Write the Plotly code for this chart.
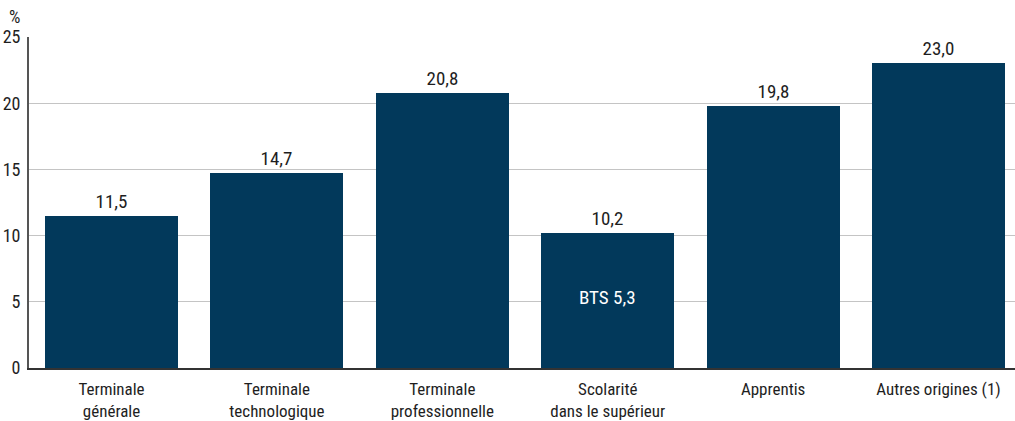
import plotly.graph_objects as go

categories = ["Terminale<br>générale", "Terminale<br>technologique", "Terminale<br>professionnelle",
              "Scolarité<br>dans le supérieur", "Apprentis", "Autres origines (1)"]
values = [11.5, 14.7, 20.8, 10.2, 19.8, 23.0]
bts_value = 5.3
y_ticks = [0, 5, 10, 15, 20, 25]

FONT = "Roboto Condensed, Liberation Sans Narrow, DejaVu Sans Condensed, sans-serif"
BAR = "#02395b"
TXT = "#1e1e1e"

x = list(range(len(categories)))
labels = [f"{v:.1f}".replace(".", ",") for v in values]

fig = go.Figure()
fig.add_trace(go.Bar(
    x=x, y=values, width=0.804,
    marker=dict(color=BAR, line=dict(width=0)),
    text=labels, textposition="outside", cliponaxis=False,
    textfont=dict(family=FONT, size=19, color=TXT),
    hoverinfo="skip",
))

fig.add_annotation(x=3, y=bts_value, text="BTS " + f"{bts_value:.1f}".replace(".", ","),
                   showarrow=False, font=dict(family=FONT, size=19, color="white"))
fig.add_annotation(xref="paper", yref="paper", x=-0.015, y=1.025, text="%",
                   showarrow=False, xanchor="center", yanchor="bottom",
                   font=dict(family=FONT, size=18, color=TXT))

fig.update_layout(
    width=1015, height=421,
    margin=dict(l=29, r=0, t=37, b=53, autoexpand=False),
    plot_bgcolor="white", paper_bgcolor="white",
    font=dict(family=FONT, size=18, color=TXT),
    showlegend=False,
    bargap=0,
)
fig.update_xaxes(
    range=[-0.499, 5.4625], tickvals=x, ticktext=categories,
    showline=True, linecolor="#333333", linewidth=1.5,
    showgrid=False, ticks="", ticklabelstandoff=5,
    tickfont=dict(family=FONT, size=17, color=TXT),
)
fig.update_yaxes(
    range=[0, 25], tickvals=y_ticks, showgrid=True, gridcolor="#c4c4c4", gridwidth=1.2,
    zeroline=False, showline=True, linecolor="#555555", linewidth=1.8,
    ticks="", ticklabelstandoff=3, tickfont=dict(family=FONT, size=18, color=TXT),
)

# drop the default page margin so the figure sits at the window corner
fig.write_html("out.html", config={"displayModeBar": False},
               post_script="document.body.style.margin='0';")
